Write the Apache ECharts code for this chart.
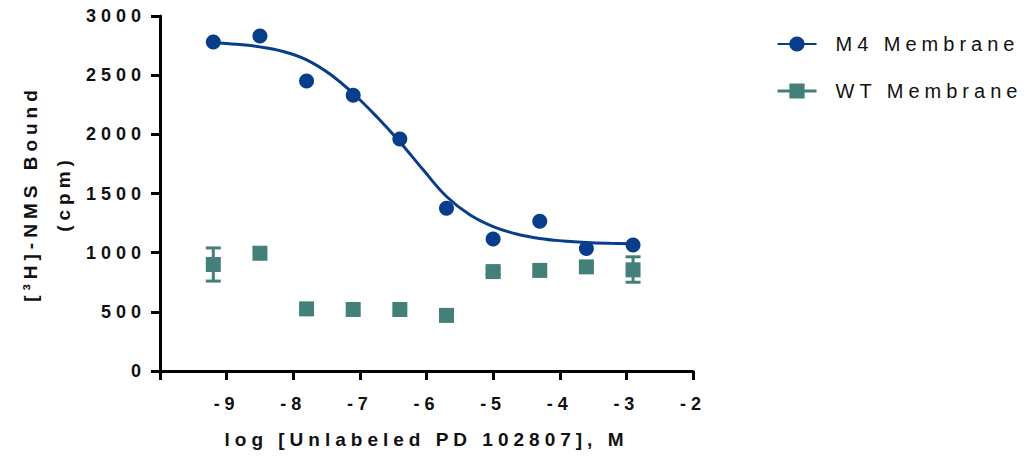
<!DOCTYPE html>
<html>
<head>
<meta charset="utf-8">
<script src="https://cdn.jsdelivr.net/npm/echarts@6/dist/echarts.min.js"></script>
<style>
  html, body { margin: 0; padding: 0; background: #fff; }
  #chart { width: 1036px; height: 458px; }
  #chart text { letter-spacing: 5px; }
</style>
</head>
<body>
<div id="chart"></div>
<script>
// log concentration of unlabeled ligand (5-fold dilutions)
const logDose = [-9.2, -8.5, -7.8, -7.1, -6.4, -5.7, -5.0, -4.3, -3.6, -2.9];
const m4Bound = [2780, 2830, 2450, 2330, 1960, 1375, 1115, 1265, 1035, 1065];
const wtBound = [900, 995, 525, 520, 520, 470, 840, 850, 880, 855];
const wtLow   = [760, 995, 525, 520, 520, 445, 815, 850, 880, 750];
const wtHigh  = [1040, 995, 525, 520, 520, 495, 865, 850, 880, 965];

// fitted M4 curve
const fitDose  = [-9.2, -8.85, -8.5, -8.15, -7.8, -7.45, -7.1, -6.75, -6.4, -6.05, -5.7, -5.35, -5.0, -4.65, -4.3, -3.95, -3.6, -3.25, -2.9];
const fitBound = [2774, 2761, 2739, 2700, 2630, 2510, 2345, 2150, 1935, 1700, 1475, 1320, 1220, 1158, 1120, 1099, 1086, 1079, 1075];

const xTicks = [-9, -8, -7, -6, -5, -4, -3, -2];
const yTicks = [0, 500, 1000, 1500, 2000, 2500, 3000];

const blue = '#063d8c';
const teal = '#428079';
const font = '"Liberation Sans", Arial, sans-serif';

const chart = echarts.init(document.getElementById('chart'), null, { renderer: 'svg' });

const zip = (xs, ys) => xs.map((x, i) => [x, ys[i]]);

const option = {
  animation: false,
  textStyle: { fontFamily: font },
  grid: { left: 160, right: 343, top: 16, bottom: 87 },
  legend: {
    orient: 'vertical',
    left: 776,
    top: 34,
    padding: 0,
    itemWidth: 39,
    itemHeight: 19,
    itemGap: 27,
    textStyle: { fontFamily: font, fontSize: 20, color: '#111', padding: [0, 0, 0, 14] },
    data: [
      { name: 'M4 Membrane' },
      { name: 'WT Membrane', lineStyle: { width: 3, opacity: 1, color: teal } }
    ]
  },
  xAxis: {
    type: 'value',
    min: -10,
    max: -2,
    interval: 1,
    name: 'log [Unlabeled PD 102807], M',
    nameLocation: 'middle',
    nameGap: 59,
    nameTextStyle: { fontFamily: font, fontSize: 19, fontWeight: 'bold', color: '#111' },
    axisLine: { lineStyle: { color: '#000', width: 3 } },
    axisTick: { length: 9, lineStyle: { width: 3, color: '#000' } },
    axisLabel: {
      margin: 24,
      fontFamily: font, fontSize: 18, fontWeight: 'bold', color: '#111',
      formatter: v => xTicks.indexOf(v) >= 0 ? String(v) : ''
    },
    splitLine: { show: false }
  },
  yAxis: {
    type: 'value',
    min: 0,
    max: 3000,
    interval: 500,
    name: '[³H]-NMS Bound\n(cpm)',
    nameLocation: 'middle',
    nameRotate: 90,
    nameGap: 80,
    nameTextStyle: { fontFamily: font, fontSize: 19, fontWeight: 'bold', color: '#111', lineHeight: 33 },
    axisLine: { show: true, lineStyle: { color: '#000', width: 3 } },
    axisTick: { show: true, length: 9, lineStyle: { width: 3, color: '#000' } },
    axisLabel: {
      margin: 14,
      fontFamily: font, fontSize: 18, fontWeight: 'bold', color: '#111',
      formatter: v => yTicks.indexOf(v) >= 0 ? String(v) : ''
    },
    splitLine: { show: false }
  },
  series: [
    {
      name: 'M4 Membrane',
      type: 'line',
      data: zip(fitDose, fitBound),
      smooth: 0.4,
      showSymbol: false,
      symbol: 'circle',
      lineStyle: { color: blue, width: 3 },
      itemStyle: { color: blue },
      z: 2
    },
    {
      name: 'M4 Membrane',
      type: 'scatter',
      data: zip(logDose, m4Bound),
      symbol: 'circle',
      symbolSize: 15,
      itemStyle: { color: blue, opacity: 1 },
      z: 3
    },
    {
      name: 'WT Membrane',
      type: 'line',
      data: zip(logDose, wtBound),
      symbol: 'rect',
      symbolSize: 15,
      showSymbol: true,
      lineStyle: { width: 0, opacity: 0, color: teal },
      itemStyle: { color: teal, opacity: 1 },
      z: 3
    },
    {
      name: 'WT Membrane',
      type: 'custom',
      data: logDose.map((x, i) => [x, wtLow[i], wtHigh[i]]),
      renderItem: (params, api) => {
        const x = api.value(0), lo = api.value(1), hi = api.value(2);
        if (lo === hi) return null;
        const t = api.coord([x, hi]);
        const b = api.coord([x, lo]);
        const h = 7.5;
        const st = { stroke: teal, lineWidth: 3 };
        return {
          type: 'group',
          children: [
            { type: 'line', shape: { x1: t[0], y1: t[1], x2: b[0], y2: b[1] }, style: st },
            { type: 'line', shape: { x1: t[0] - h, y1: t[1], x2: t[0] + h, y2: t[1] }, style: st },
            { type: 'line', shape: { x1: b[0] - h, y1: b[1], x2: b[0] + h, y2: b[1] }, style: st }
          ]
        };
      },
      z: 2
    }
  ]
};

chart.setOption(option);
</script>
</body>
</html>
